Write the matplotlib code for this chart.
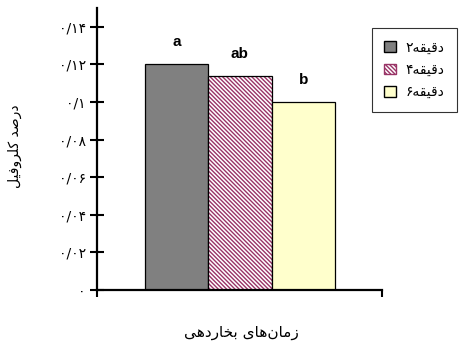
import matplotlib
matplotlib.use('Agg')
import matplotlib.pyplot as plt
from matplotlib.patches import Patch

# Persian text is written in presentation forms, visual order (matplotlib has no shaping)
DAQIQE = '\uFEEA\uFED8\uFEF4\uFED7\uFEA9'
series = ['\u06F2' + DAQIQE, '\u06F4' + DAQIQE, '\u06F6' + DAQIQE]
values = [0.12, 0.114, 0.10]
letters = ['a', 'ab', 'b']
yticks = [0, 0.02, 0.04, 0.06, 0.08, 0.10, 0.12, 0.14]
ytick_labels = ['\u06F0', '\u06F0/\u06F0\u06F2', '\u06F0/\u06F0\u06F4', '\u06F0/\u06F0\u06F6',
                '\u06F0/\u06F0\u06F8', '\u06F0/\u06F1', '\u06F0/\u06F1\u06F2', '\u06F0/\u06F1\u06F4']
xlabel = ('\uFEF0\uFEEB\uFEA9\uFEAD\uFE8E\uFEA8\uFE91' + ' ' +
          '\uFEEF\uFE8E\uFEEB' + '\uFEE5\uFE8E\uFEE3\uFEAF')
ylabel = '\uFEDE\uFEF4\uFED3\uFEED\uFEAE\uFEE0\uFB90' + ' ' + '\uFEAA\uFEBB\uFEAD\uFEA9'

colors = ['#808080', 'white', '#FFFFCC']
hatches = [None, '\\' * 8, None]

plt.rcParams['font.family'] = ['DejaVu Sans']
plt.rcParams['hatch.linewidth'] = 1.0

fig = plt.figure(figsize=(4.64, 3.49), dpi=100)
ax = fig.add_axes([97 / 464, 59 / 349, 285 / 464, 282 / 349])

for i in range(3):
    if hatches[i]:
        # hatch drawn in maroon, outline drawn on top in black
        ax.bar(i, values[i], width=1, color=colors[i], hatch=hatches[i],
               edgecolor='#993366', linewidth=0)
        ax.bar(i, values[i], width=1, facecolor='none', edgecolor='black', linewidth=0.9)
    else:
        ax.bar(i, values[i], width=1, color=colors[i], edgecolor='black', linewidth=0.9)
    ax.annotate(letters[i], (i, values[i]), xytext=(0, 13), textcoords='offset points',
                ha='center', va='baseline', fontsize=11, fontweight='bold',
                family='Liberation Sans')

ax.set_xlim(-1.25, 3.24)
ax.set_ylim(0, 0.15)
ax.set_yticks(yticks)
ax.set_yticklabels(ytick_labels, fontsize=10)
ax.set_xticks([-1.25, 3.24])
ax.set_xticklabels(['', ''])
ax.tick_params(axis='y', direction='inout', length=10, width=1.5, pad=3)
ax.tick_params(axis='x', direction='out', length=5, width=1.5)
for s in ['top', 'right']:
    ax.spines[s].set_visible(False)
for s in ['left', 'bottom']:
    ax.spines[s].set_linewidth(1.6)

handles = [Patch(facecolor=colors[0], edgecolor='black', label=series[0]),
           Patch(facecolor='white', edgecolor='#993366', hatch='\\' * 8, label=series[1]),
           Patch(facecolor=colors[2], edgecolor='black', label=series[2])]
leg = fig.legend(handles=handles, loc='upper left', bbox_to_anchor=(372 / 464, 1 - 28 / 349),
                 fontsize=10, frameon=True, fancybox=False, edgecolor='black',
                 handlelength=0.8, handleheight=0.8, handletextpad=0.7,
                 borderpad=0.9, labelspacing=0.6, borderaxespad=0)
leg.get_frame().set_linewidth(0.8)

fig.text(241 / 464, 1 - 333 / 349, xlabel, ha='center', va='center', fontsize=11)
fig.text(15 / 464, 1 - 146 / 349, ylabel, ha='center', va='center', rotation=90, fontsize=10)

fig.savefig('out.png', dpi=100)
